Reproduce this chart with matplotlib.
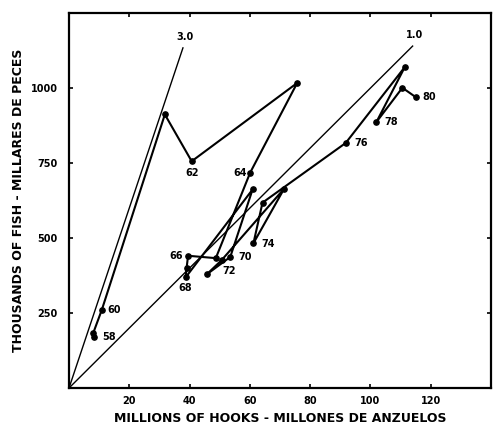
import numpy as np
import matplotlib
matplotlib.use('Agg')
import matplotlib.pyplot as plt

# yearly catch vs effort, 1958-1980
years = list(range(58, 81))
hooks = [8.3, 8.1, 10.9, 31.8, 40.7, 75.7, 60.1, 48.7, 39.5, 39.0, 38.7, 60.9,
         53.5, 45.7, 50.6, 71.4, 61.2, 64.2, 91.8, 111.4, 102.0, 110.6, 115.0]
fish = [170, 185, 261, 912, 756, 1017, 718, 433, 441, 399, 369, 662,
        437, 379, 426, 665, 483, 618, 817, 1070, 887, 1001, 970]

# fish per 100 hooks reference lines
ratios = [3.0, 1.0]
ratio_end_x = [37.8, 114.0]
ratio_labels = ['3.0', '1.0']

labelled = [58, 60, 62, 64, 66, 68, 70, 72, 74, 76, 78, 80]
# label offsets in pixels (dx, dy, ha, va)
offs = {58: (8, 0, 'left', 'center'), 60: (6, 0, 'left', 'center'),
        62: (0, -12, 'center', 'center'), 64: (-3, 0, 'right', 'center'),
        66: (-5, 0, 'right', 'center'), 68: (0, -11, 'center', 'center'),
        70: (8, 0, 'left', 'center'), 72: (1, -11, 'left', 'center'),
        74: (8, -1, 'left', 'center'), 76: (9, 0, 'left', 'center'),
        78: (8, 0, 'left', 'center'), 80: (7, 0, 'left', 'center')}

plt.rcParams['font.family'] = ['DejaVu Sans']
plt.rcParams['font.weight'] = 'bold'

fig = plt.figure(figsize=(5.0, 4.36), dpi=100)
ax = fig.add_axes([0.138, 0.110, 0.844, 0.860])

for r, xe, lab in zip(ratios, ratio_end_x, ratio_labels):
    ax.plot([0, xe], [0, r * 10 * xe], color='black', lw=1.0)
    ax.text(xe + 0.8, r * 10 * xe + 36, lab, ha='center', va='center',
            fontsize=7, fontweight='bold')

ax.plot(hooks, fish, color='black', lw=1.5, marker='o', ms=3.8,
        solid_joinstyle='miter')

px = 0.72  # pixel -> point
for yr in labelled:
    i = years.index(yr)
    dx, dy, ha, va = offs[yr]
    ax.annotate(str(yr), (hooks[i], fish[i]), xytext=(dx * px, dy * px),
                textcoords='offset points', ha=ha, va=va,
                fontsize=7, fontweight='bold')

ax.set_xlim(0, 140)
ax.set_ylim(0, 1250)
ax.set_xticks([20, 40, 60, 80, 100, 120])
ax.set_yticks([250, 500, 750, 1000])
ax.tick_params(direction='in', length=3, width=1.2, top=True, right=True,
               labelsize=7)
ax.tick_params(axis='x', pad=6)
ax.tick_params(axis='y', pad=8)
for lab in ax.get_xticklabels() + ax.get_yticklabels():
    lab.set_fontweight('bold')
for s in ax.spines.values():
    s.set_linewidth(1.6)

ax.set_xlabel('MILLIONS OF HOOKS - MILLONES DE ANZUELOS', fontsize=9,
              fontweight='bold', labelpad=4)
ax.set_ylabel('THOUSANDS OF FISH - MILLARES DE PECES', fontsize=9,
              fontweight='bold', labelpad=4)

fig.savefig('out.png', dpi=100)
